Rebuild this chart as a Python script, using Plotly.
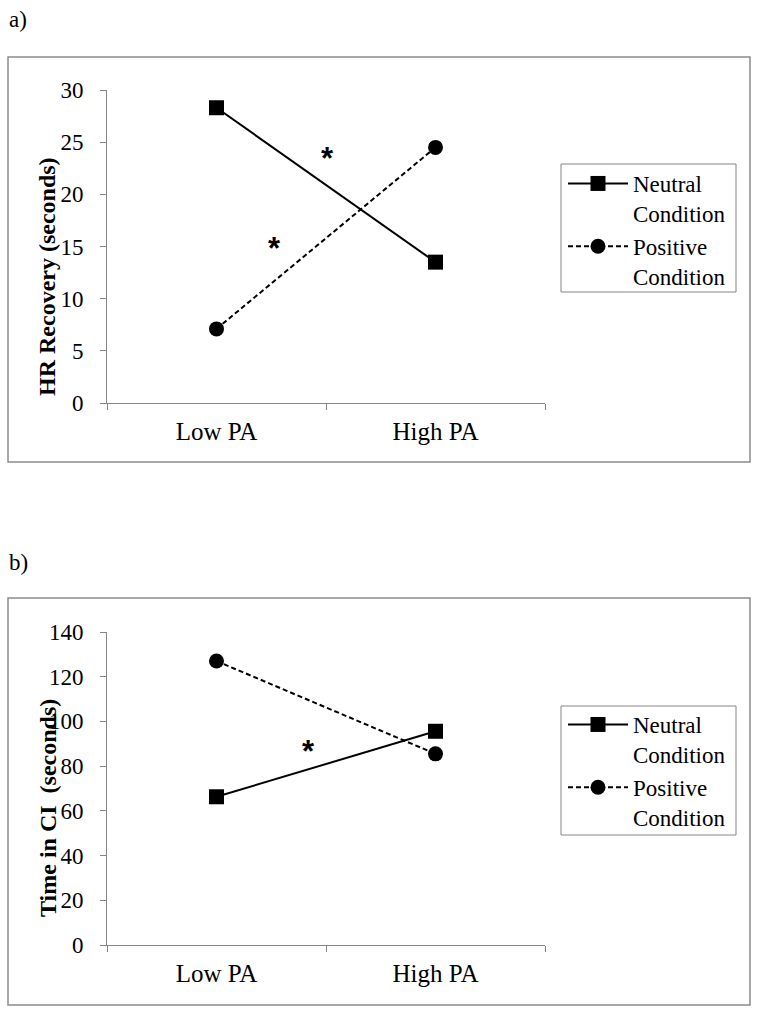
import plotly.graph_objects as go

categories = ["Low PA", "High PA"]
neutral_hr = [28.3, 13.5]
positive_hr = [7.1, 24.5]
neutral_ci = [66.3, 95.6]
positive_ci = [127.0, 85.5]
series_names = ["Neutral<br>Condition", "Positive<br>Condition"]
y_title_a = "HR Recovery (seconds)"
y_title_b = "Time in CI  (seconds)"
y_ticks_a = [0, 5, 10, 15, 20, 25, 30]
y_ticks_b = [0, 20, 40, 60, 80, 100, 120, 140]

W, H = 767, 1015
FONT = "Liberation Serif"
AXC = "#868686"

fig = go.Figure()

def add_pair(neu, pos, xa, ya, leg):
    fig.add_trace(go.Scatter(
        x=categories, y=neu, name=series_names[0], xaxis=xa, yaxis=ya, legend=leg,
        mode="lines+markers", line=dict(color="black", width=2),
        marker=dict(symbol="square", size=15, color="black")))
    fig.add_trace(go.Scatter(
        x=categories, y=pos, name=series_names[1], xaxis=xa, yaxis=ya, legend=leg,
        mode="lines+markers", line=dict(color="black", width=2, dash="5px,3px"),
        marker=dict(symbol="circle", size=15, color="black")))

add_pair(neutral_hr, positive_hr, "x", "y", "legend")
add_pair(neutral_ci, positive_ci, "x2", "y2", "legend2")

xd = [107 / W, 545 / W]
xaxis_common = dict(type="category", range=[-0.5, 1.5], domain=xd, showgrid=False,
                    showline=True, linecolor=AXC, linewidth=1, ticks="outside",
                    tickson="boundaries", ticklen=6, tickcolor=AXC, zeroline=False,
                    tickfont=dict(family=FONT, size=25, color="black"),
                    ticklabelstandoff=6, fixedrange=True, automargin=False)
yaxis_common = dict(showgrid=False, showline=True, linecolor=AXC, linewidth=1,
                    ticks="outside", ticklen=6, tickcolor=AXC, zeroline=False,
                    tickfont=dict(family=FONT, size=23, color="black"),
                    ticklabelstandoff=12, fixedrange=True, automargin=False)

legend_common = dict(xanchor="left", yanchor="top", bgcolor="rgba(0,0,0,0)",
                     borderwidth=0, valign="top",
                     font=dict(family=FONT, size=23, color="black"),
                     itemwidth=60, tracegroupgap=4)

fig.update_layout(
    template="none",
    width=W, height=H, margin=dict(l=0, r=0, t=0, b=0, autoexpand=False),
    paper_bgcolor="white", plot_bgcolor="white",
    xaxis=dict(xaxis_common, anchor="y"),
    yaxis=dict(yaxis_common, domain=[1 - 403 / H, 1 - 90 / H], range=[0, 30],
               tickvals=y_ticks_a, anchor="x"),
    xaxis2=dict(xaxis_common, anchor="y2"),
    yaxis2=dict(yaxis_common, domain=[1 - 945 / H, 1 - 632 / H], range=[0, 140],
                tickvals=y_ticks_b, anchor="x2"),
    legend=dict(legend_common, x=563 / W, y=1 - 162 / H),
    legend2=dict(legend_common, x=563 / W, y=1 - 703 / H),
    showlegend=True,
)

# outer frames
for (y0, y1) in [(57, 462), (598, 1005)]:
    fig.add_shape(type="rect", xref="paper", yref="paper",
                  x0=8 / W, x1=750 / W, y0=1 - y1 / H, y1=1 - y0 / H,
                  line=dict(color="#8c8c8c", width=1.5), layer="below")

# legend frames
for (y0, y1) in [(164, 292), (706, 835)]:
    fig.add_shape(type="rect", xref="paper", yref="paper",
                  x0=561 / W, x1=736 / W, y0=1 - y1 / H, y1=1 - y0 / H,
                  line=dict(color=AXC, width=1), fillcolor="white", layer="below")

# panel labels
for txt, yp in [("a)", 20), ("b)", 562)]:
    fig.add_annotation(text=txt, xref="paper", yref="paper", x=7 / W, y=1 - yp / H,
                       xanchor="left", yanchor="middle", showarrow=False,
                       font=dict(family=FONT, size=23, color="black"))

# axis titles
fig.add_annotation(text="<b>" + y_title_a + "</b>", xref="paper", yref="paper",
                   x=47 / W, y=1 - 277 / H, textangle=-90, showarrow=False,
                   xanchor="center", yanchor="middle",
                   font=dict(family=FONT, size=24, color="black"))
fig.add_annotation(text="<b>" + y_title_b + "</b>", xref="paper", yref="paper",
                   x=48 / W, y=1 - 808 / H, textangle=-90, showarrow=False,
                   xanchor="center", yanchor="middle",
                   font=dict(family=FONT, size=24, color="black"))

# significance asterisks
for xr, yr, xv, yv in [("x", "y", 0.509, 23.4), ("x", "y", 0.267, 14.8),
                       ("x2", "y2", 0.422, 86.4)]:
    fig.add_annotation(text="<b>*</b>", xref=xr, yref=yr, x=xv, y=yv, showarrow=False,
                       xanchor="center", yanchor="middle",
                       font=dict(family="Liberation Sans", size=31, color="black"))

fig.write_html("out.html", config={"displayModeBar": False},
               post_script="document.body.style.margin='0px';")
